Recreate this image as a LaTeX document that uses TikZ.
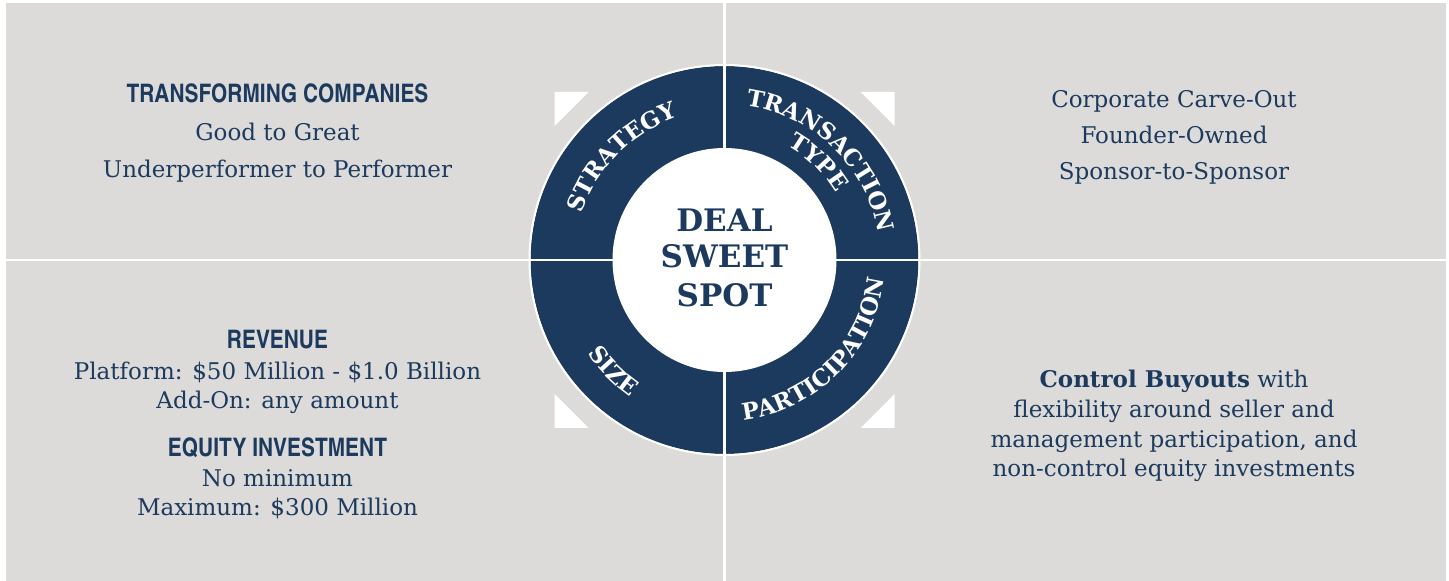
\documentclass[tikz,border=0pt]{standalone}
\usepackage{fontspec}
\setmainfont{DejaVu Serif}
\newfontfamily\headfont{texgyreheroscn-bold.otf}
\newfontfamily\ringfont[LetterSpace=1]{DejaVu Serif}
\usetikzlibrary{decorations.text,calc}
\definecolor{navy}{RGB}{28,58,94}
\definecolor{panel}{RGB}{220,219,217}
\begin{document}
\begin{tikzpicture}[x=1pt,y=1pt,
  body/.style={text=navy,anchor=base,inner sep=0pt,font=\fontsize{23}{27}\selectfont},
  head/.style={text=navy,anchor=base,inner sep=0pt,font=\headfont\fontsize{25.5}{28}\selectfont},
  tri/.style={fill=white,draw=none},
  divider/.style={white,line width=2.5pt},
  center/.style={text=navy,anchor=base,inner sep=0pt,font=\bfseries\fontsize{31}{36}\selectfont}]
\useasboundingbox (0,0) rectangle (1449,581);
\fill[panel] (6,0) rectangle (1446,578);
\coordinate (C) at (724.5,321);
\coordinate (vt) at (724.5,578);
\coordinate (vb) at (724.5,0);
\coordinate (hl) at (6,321);
\coordinate (hr) at (1446,321);
% corner triangles
\fill[tri] (554.5,489) -- (588.5,489) -- (554.5,455) -- cycle;
\fill[tri] (894.5,489) -- (860.5,489) -- (894.5,455) -- cycle;
\fill[tri] (554.5,187) -- (554.5,153) -- (588.5,153) -- cycle;
\fill[tri] (894.5,187) -- (894.5,153) -- (860.5,153) -- cycle;
% ring
\fill[navy] (C) circle[radius=194];
\draw[white,line width=2pt] (C) circle[radius=195];
\draw[divider] (vb) -- (vt);
\draw[divider] (hl) -- (hr);
\fill[white] (C) circle[radius=112];
% ring labels
\path[decorate,decoration={text along path,text align=center,
  text={|\ringfont\bfseries\fontsize{23}{26}\selectfont\color{white}|STRATEGY}}]
  ($(C)+(180:150)$) arc[start angle=180,end angle=90,radius=150];
\path[decorate,decoration={text along path,text align=center,
  text={|\ringfont\bfseries\fontsize{23}{26}\selectfont\color{white}|TRANSACTION}}]
  ($(C)+(91:156)$) arc[start angle=91,end angle=1,radius=156];
\path[decorate,decoration={text along path,text align=center,
  text={|\ringfont\bfseries\fontsize{23}{26}\selectfont\color{white}|TYPE}}]
  ($(C)+(91:130)$) arc[start angle=91,end angle=1,radius=130];
\path[decorate,decoration={text along path,text align=center,
  text={|\ringfont\bfseries\fontsize{23}{26}\selectfont\color{white}|PARTICIPATION}}]
  ($(C)+(-90:161)$) arc[start angle=-90,end angle=0,radius=161];
\path[decorate,decoration={text along path,text align=center,
  text={|\ringfont\bfseries\fontsize{23}{26}\selectfont\color{white}|SIZE}}]
  ($(C)+(-180:166)$) arc[start angle=-180,end angle=-90,radius=166];
% center
\node[center] (c1) at (724.5,349) {DEAL};
\node[center] (c2) at (724.5,313) {SWEET};
\node[center] (c3) at (724.5,274) {SPOT};
% top-left
\node[head] (tl1) at (277.5,478) {TRANSFORMING COMPANIES};
\node[body] (tl2) at (277.5,440) {Good to Great};
\node[body] (tl3) at (277.5,403) {Underperformer to Performer};
% top-right
\node[body] (tr1) at (1174,473) {Corporate Carve-Out};
\node[body] (tr2) at (1174,437) {Founder-Owned};
\node[body] (tr3) at (1174,401) {Sponsor-to-Sponsor};
% bottom-left
\node[head] (bl1) at (277.5,232) {REVENUE};
\node[body] (bl2) at (277.5,201) {Platform: \$50 Million - \$1.0 Billion};
\node[body] (bl3) at (277.5,172) {Add-On: any amount};
\node[head] (bl4) at (277.5,124) {EQUITY INVESTMENT};
\node[body] (bl5) at (277.5,94) {No minimum};
\node[body] (bl6) at (277.5,65) {Maximum: \$300 Million};
% bottom-right
\node[body] (br1) at (1174,193) {\textbf{Control Buyouts} with};
\node[body] (br2) at (1174,163) {flexibility around seller and};
\node[body] (br3) at (1174,133) {management participation, and};
\node[body] (br4) at (1174,104) {non-control equity investments};
\end{tikzpicture}
\end{document}
